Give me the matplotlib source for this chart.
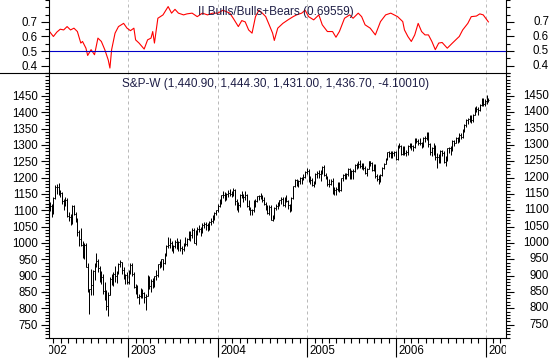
import numpy as np
import pandas as pd
import matplotlib
matplotlib.use('Agg')
import matplotlib.pyplot as plt
import matplotlib.dates as mdates
import matplotlib.transforms as mtransforms
from matplotlib.lines import Line2D

# ---------------- data ----------------
first_week = '2002-02-15'

high = [1125, 1118, 1140, 1178, 1180, 1184, 1162, 1155, 1135, 1140, 1138, 1095, 1090, 1115, 1115, 1095,
        1075, 1040, 1045, 1005, 1000, 1000, 940, 860, 920, 918, 940, 969, 950, 930, 915, 905, 880,
        855, 850, 895, 905, 910, 930, 915, 940, 948, 942, 925, 905, 910, 918,
        938, 940, 912, 875, 870, 845, 862, 860, 850, 845, 902, 900, 890, 892, 900, 918,
        935, 945, 952, 952, 970, 995, 1018, 1015, 1005, 995, 1010, 1015, 1005,
        1012, 990, 1000, 1018, 1015, 1035, 1035, 1045, 1045, 1040, 1050, 1055, 1050, 1060,
        1065, 1065, 1060, 1068, 1075, 1085, 1095, 1102, 1118,
        1135, 1148, 1158, 1155, 1152, 1163, 1165, 1160, 1168, 1165, 1133, 1125,
        1150, 1158, 1150, 1160, 1150, 1130, 1110, 1105, 1130, 1135, 1145, 1148, 1153,
        1147, 1140, 1125, 1115, 1115, 1115, 1085, 1110, 1118, 1125, 1132, 1140, 1140,
        1142, 1148, 1132, 1120, 1140, 1175, 1195, 1195, 1192, 1202, 1202, 1212, 1220, 1228,
        1225, 1205, 1200, 1190, 1215, 1220, 1222, 1222, 1235, 1238, 1215, 1205,
        1195, 1195, 1200, 1170, 1170, 1185, 1185, 1200, 1210, 1215, 1215, 1228, 1228,
        1222, 1225, 1240, 1245, 1250, 1255, 1245, 1245, 1235, 1230, 1252, 1252, 1248, 1242,
        1240, 1210, 1208, 1210, 1232, 1245, 1260, 1278, 1280, 1280, 1280, 1282, 1280,
        1300, 1306, 1300, 1298, 1298, 1285, 1300, 1305, 1305, 1300, 1320, 1322, 1318,
        1322, 1310, 1325, 1328, 1338, 1340, 1305, 1295, 1305, 1300, 1275, 1272, 1285,
        1285, 1280, 1265, 1290, 1295, 1298, 1315, 1315, 1325, 1325, 1335, 1335, 1350,
        1365, 1378, 1382, 1392, 1390, 1395, 1415, 1418, 1415, 1425, 1445, 1442, 1440,
        1452, 1444.3]

low = [1098, 1080, 1088, 1135, 1150, 1148, 1140, 1120, 1100, 1112, 1078, 1068, 1055, 1058, 1085, 1065,
       1020, 990, 990, 955, 950, 925, 850, 782, 840, 840, 888, 925, 910, 880, 875, 845, 825,
       795, 775, 840, 870, 868, 880, 878, 905, 925, 905, 890, 875, 875, 875,
       905, 900, 862, 845, 830, 812, 830, 830, 815, 794, 838, 860, 850, 862, 865, 888,
       895, 922, 925, 918, 935, 960, 985, 985, 975, 970, 985, 980, 975,
       975, 965, 975, 990, 990, 1010, 1005, 1015, 1000, 995, 1025, 1032, 1020, 1030,
       1045, 1040, 1035, 1040, 1055, 1060, 1070, 1085, 1095,
       1110, 1120, 1138, 1128, 1130, 1140, 1145, 1140, 1145, 1115, 1100, 1095,
       1110, 1138, 1125, 1130, 1110, 1100, 1085, 1085, 1095, 1110, 1125, 1130, 1135,
       1125, 1115, 1100, 1090, 1085, 1070, 1068, 1072, 1100, 1105, 1112, 1120, 1112,
       1110, 1125, 1105, 1095, 1098, 1135, 1170, 1175, 1170, 1180, 1180, 1192, 1198, 1210,
       1185, 1180, 1175, 1170, 1180, 1200, 1200, 1190, 1210, 1205, 1195, 1175,
       1170, 1178, 1150, 1146, 1148, 1160, 1155, 1160, 1190, 1195, 1195, 1205, 1195,
       1195, 1195, 1218, 1225, 1230, 1230, 1225, 1222, 1210, 1205, 1225, 1235, 1220, 1220,
       1200, 1190, 1180, 1185, 1205, 1225, 1240, 1255, 1262, 1260, 1260, 1265, 1255,
       1255, 1290, 1268, 1270, 1270, 1265, 1270, 1290, 1285, 1280, 1292, 1305, 1300,
       1300, 1292, 1295, 1310, 1315, 1295, 1268, 1265, 1270, 1255, 1228, 1245, 1245,
       1265, 1245, 1235, 1250, 1275, 1270, 1280, 1298, 1305, 1305, 1310, 1318, 1322,
       1340, 1355, 1365, 1370, 1368, 1370, 1390, 1400, 1392, 1405, 1418, 1418, 1420,
       1425, 1431]

close = [1112, 1095, 1137, 1170, 1172, 1154, 1153, 1128, 1117, 1131, 1082, 1079, 1060, 1112, 1089, 1073,
         1033, 1013, 995, 996, 995, 927, 853, 858, 870, 914, 934, 946, 922, 899, 895, 852, 833,
         806, 841, 890, 903, 906, 900, 915, 936, 942, 918, 895, 901, 881, 915,
         932, 906, 866, 861, 834, 839, 856, 846, 834, 838, 900, 868, 883, 873, 898, 903,
         935, 938, 951, 938, 969, 992, 993, 1000, 981, 990, 1003, 999, 1003,
         985, 982, 995, 998, 1013, 1026, 1023, 1041, 1001, 1034, 1043, 1044, 1033, 1055,
         1058, 1055, 1040, 1063, 1066, 1079, 1093, 1100, 1113,
         1129, 1146, 1148, 1138, 1149, 1153, 1151, 1152, 1163, 1127, 1117, 1115,
         1148, 1146, 1141, 1147, 1114, 1105, 1102, 1100, 1128, 1129, 1144, 1143, 1141,
         1132, 1119, 1108, 1093, 1109, 1071, 1071, 1106, 1114, 1121, 1130, 1135, 1117,
         1138, 1129, 1115, 1102, 1137, 1173, 1192, 1177, 1189, 1198, 1196, 1201, 1217, 1219,
         1195, 1193, 1177, 1180, 1212, 1215, 1210, 1220, 1231, 1209, 1199, 1181,
         1181, 1191, 1151, 1161, 1165, 1181, 1163, 1198, 1207, 1205, 1210, 1225, 1200,
         1220, 1221, 1237, 1239, 1243, 1235, 1240, 1229, 1214, 1227, 1250, 1246, 1224, 1238,
         1205, 1196, 1188, 1208, 1229, 1243, 1257, 1277, 1274, 1268, 1276, 1277, 1258,
         1296, 1298, 1272, 1294, 1275, 1277, 1298, 1300, 1298, 1293, 1318, 1313, 1306,
         1306, 1300, 1322, 1321, 1336, 1302, 1278, 1291, 1300, 1264, 1262, 1256, 1281,
         1276, 1247, 1251, 1289, 1290, 1277, 1313, 1307, 1322, 1310, 1331, 1325, 1347,
         1360, 1376, 1379, 1388, 1375, 1391, 1412, 1411, 1407, 1421, 1440, 1425, 1433,
         1440.8, 1436.7]

# Investors Intelligence Bulls/(Bulls+Bears): week index into the weekly series, value
ii_week = [0, 2, 4, 6, 8, 10, 12, 14, 16, 18,
           19, 21, 22, 24, 26, 28, 30, 32, 34, 35,
           36, 38, 40, 43, 45, 47, 49, 50, 52, 55,
           57, 59, 60, 61, 63, 66, 69, 71, 73, 75,
           78, 80, 83, 86, 89, 92, 95, 98, 101, 105,
           107, 110, 112, 114, 116, 118, 120, 122, 124, 126,
           128, 130, 131, 133, 136, 139, 142, 144, 147, 149,
           151, 154, 157, 159, 162, 165, 167, 169, 172, 175,
           177, 180, 182, 184, 187, 190, 193, 196, 199, 201,
           203, 206, 207, 209, 211, 213, 215, 217, 219, 221,
           223, 225, 227, 229, 232, 235, 238, 239, 241, 244,
           246, 249, 251, 253, 256]
ii_ratio = [0.63, 0.60, 0.63, 0.65, 0.645, 0.668, 0.645, 0.657, 0.634, 0.555,
            0.566, 0.52, 0.47, 0.51, 0.475, 0.589, 0.566, 0.51, 0.44, 0.384,
            0.51, 0.623, 0.668, 0.69, 0.657, 0.64, 0.657, 0.577, 0.555, 0.514,
            0.577, 0.589, 0.634, 0.555, 0.725, 0.748, 0.805, 0.76, 0.786, 0.76,
            0.748, 0.755, 0.76, 0.736, 0.76, 0.748, 0.76, 0.76, 0.78, 0.76,
            0.725, 0.668, 0.709, 0.70, 0.645, 0.623, 0.736, 0.78, 0.76, 0.736,
            0.68, 0.623, 0.573, 0.657, 0.69, 0.714, 0.736, 0.748, 0.76, 0.78,
            0.736, 0.714, 0.748, 0.68, 0.634, 0.634, 0.595, 0.634, 0.725, 0.748,
            0.725, 0.76, 0.736, 0.68, 0.657, 0.611, 0.702, 0.748, 0.76, 0.748,
            0.736, 0.702, 0.645, 0.60, 0.566, 0.611, 0.69, 0.634, 0.611, 0.611,
            0.566, 0.51, 0.555, 0.559, 0.52, 0.555, 0.589, 0.60, 0.645, 0.69,
            0.736, 0.74, 0.755, 0.748, 0.70]

ii_label = 'II Bulls/Bulls+Bears (0.69559)'
spx_label = 'S&P-W (1,440.90, 1,444.30, 1,431.00, 1,436.70, -4.10010)'
spx_ticks = [750, 800, 850, 900, 950, 1000, 1050, 1100, 1150, 1200, 1250, 1300, 1350, 1400, 1450]
ii_ticks = [0.4, 0.5, 0.6, 0.7]
years = [2002, 2003, 2004, 2005, 2006, 2007]

# ---------------- figure ----------------
plt.rcParams['font.family'] = ['Liberation Sans', 'DejaVu Sans']
FW, FH = 554, 359
fig = plt.figure(figsize=(FW / 100, FH / 100), dpi=100)
fig.patch.set_facecolor('white')

L = 49 / FW
W = 456.5 / FW
ax_top = fig.add_axes([L, (FH - 73) / FH, W, 73 / FH])
ax = fig.add_axes([L, 21 / FH, W, 265 / FH])
ax_strip = fig.add_axes([L, 0, W, 21 / FH])
ax_strip.set_axis_off()

dates = pd.date_range(first_week, periods=len(close), freq='7D')
xd = mdates.date2num(dates)
H = np.array(high, float)
Lo = np.array(low, float)
C = np.array(close, float)
O = np.concatenate([[C[0]], C[:-1]])
half = 3.0

xmin = mdates.date2num(pd.Timestamp('2002-02-11'))
xmax = mdates.date2num(pd.Timestamp('2007-03-23'))
for a in (ax_top, ax, ax_strip):
    a.set_xlim(xmin, xmax)

tick_font = 8.3
lab_col = '#000000'
grid_col = '#b9b9b9'
year_dates = [mdates.date2num(pd.Timestamp(f'{y}-01-01')) for y in years]

# ---- bottom panel: OHLC bars ----
ax.vlines(xd, Lo, H, color='black', lw=0.72)
ax.hlines(C, xd, xd + half, color='black', lw=0.72)
ax.hlines(O, xd - half, xd, color='black', lw=0.72)
ax.set_ylim(709, 1520)
for yd in year_dates:
    ax.axvline(yd, color=grid_col, lw=0.72, ls=(0, (3, 3)), zorder=0)
    ax_top.axvline(yd, color=grid_col, lw=0.72, ls=(0, (3, 3)), zorder=0)

ax.spines['top'].set_visible(False)
for s in ('left', 'right', 'bottom'):
    ax.spines[s].set_linewidth(0.8)
ax.set_yticks(spx_ticks)
ax.set_yticks(np.arange(710, 1521, 10), minor=True)
ax.tick_params(axis='y', which='both', left=True, right=True, labelleft=True,
               labelright=False, direction='out', width=0.8, colors=lab_col,
               labelsize=tick_font)
ax.tick_params(axis='y', which='major', length=6, pad=2)
ax.tick_params(axis='y', which='minor', length=3)
ax.xaxis.set_major_locator(mdates.YearLocator())
ax.xaxis.set_minor_locator(mdates.MonthLocator())
ax.tick_params(axis='x', which='both', direction='out', width=0.8, labelbottom=False)
ax.tick_params(axis='x', which='major', length=13.5)
ax.tick_params(axis='x', which='minor', length=3.6)

tr_r = mtransforms.blended_transform_factory(ax.transAxes, ax.transData)
for v in spx_ticks:
    ax.text(1 + 43.5 / 456.5, v, str(v), transform=tr_r, ha='right', va='center',
            fontsize=tick_font, color=lab_col, clip_on=False)

ax.text(0.497, 1 - 11.5 / 265, spx_label, transform=ax.transAxes, ha='center',
        va='center', fontsize=8.5, color='#1e1e46')

# ---- top panel ----
ax_top.plot(xd[ii_week], ii_ratio, color='#ff0000', lw=0.8)
ax_top.axhline(0.5, color='#0000c8', lw=0.8)
ax_top.set_ylim(0.352, 0.849)
ax_top.spines['top'].set_visible(False)
ax_top.spines['bottom'].set_visible(False)
for s in ('left', 'right'):
    ax_top.spines[s].set_linewidth(0.8)
ax_top.set_yticks(ii_ticks)
ax_top.set_yticklabels([f'{v:.1f}' for v in ii_ticks])
ax_top.set_yticks(np.arange(0.35, 0.86, 0.05), minor=True)
ax_top.tick_params(axis='y', which='both', left=True, right=True, labelleft=True,
                   labelright=False, direction='out', width=0.8, colors=lab_col,
                   labelsize=tick_font)
ax_top.tick_params(axis='y', which='major', length=6, pad=2)
ax_top.tick_params(axis='y', which='minor', length=3)
ax_top.set_xticks([])
tr_r2 = mtransforms.blended_transform_factory(ax_top.transAxes, ax_top.transData)
for v in ii_ticks:
    ax_top.text(1 + 43.5 / 456.5, v, f'{v:.1f}', transform=tr_r2, ha='right', va='center',
                fontsize=tick_font, color=lab_col, clip_on=False)
ax_top.text(0.498, 1 - 11.7 / 73, ii_label, transform=ax_top.transAxes, ha='center',
            va='center', fontsize=8.5, color='#1e1e46')

# separator line across the full width
fig.add_artist(Line2D([0, 505.5 / FW], [(FH - 73) / FH] * 2, color='black', lw=0.8,
                      transform=fig.transFigure))

# ---- year labels, clipped to the plot width ----
off = mtransforms.ScaledTranslation(2.5 / 100, 0, fig.dpi_scale_trans)
tr_s = mtransforms.blended_transform_factory(ax_strip.transData, ax_strip.transAxes) + off
for y, yd in zip(years, year_dates):
    ax_strip.text(yd, 0.40, str(y), transform=tr_s, ha='left', va='center',
                  fontsize=tick_font, color=lab_col, clip_on=True)

fig.savefig('out.png', dpi=100, facecolor='white')
